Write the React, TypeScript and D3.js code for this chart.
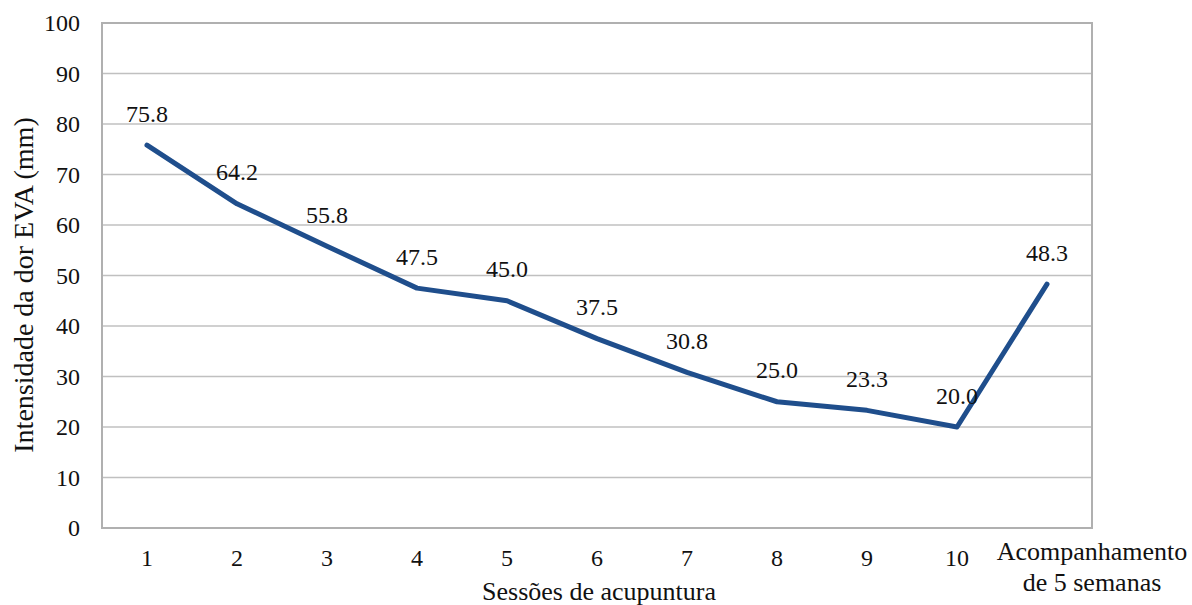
import React from "react";
import * as d3 from "d3";

const categories = ["1", "2", "3", "4", "5", "6", "7", "8", "9", "10", "Acompanhamento|de 5 semanas"];
const values = [75.8, 64.2, 55.8, 47.5, 45.0, 37.5, 30.8, 25.0, 23.3, 20.0, 48.3];
const yTicks = [0, 10, 20, 30, 40, 50, 60, 70, 80, 90, 100];

const font = "'Liberation Serif', 'Times New Roman', serif";
const ts: React.CSSProperties = { fontFamily: font };

export default function App() {
  const W = 1192, H = 605;
  const m = { left: 102, top: 23, right: 1092, bottom: 528 };
  const x = d3.scaleBand<string>().domain(categories).range([m.left, m.right]);
  const y = d3.scaleLinear().domain([0, 100]).range([m.bottom, m.top]);
  const cx = (c: string) => (x(c) as number) + x.bandwidth() / 2;
  const line = d3.line<number>().x((_, i) => cx(categories[i])).y((v) => y(v));
  return (
    <svg width={W} height={H} style={{ position: "absolute", left: 0, top: 0, background: "#fff", fontFamily: font }}>
      {yTicks.map((t) => (
        <g key={t}>
          <line x1={m.left} x2={m.right} y1={y(t)} y2={y(t)} stroke="#c0c0c0" strokeWidth={1.5} />
          <text style={ts} x={80} y={y(t)} dy="0.34em" textAnchor="end" fontSize={24} fill="#111">{t}</text>
        </g>
      ))}
      <rect x={m.left} y={m.top} width={m.right - m.left} height={m.bottom - m.top} fill="none" stroke="#b0b0b0" strokeWidth={2} />
      {categories.map((c, i) => {
        const parts = c.split("|");
        const isLast = parts.length > 1;
        const tx = isLast ? cx(c) + x.bandwidth() / 2 : cx(c);
        return (
          <text style={ts} key={i} x={tx} y={isLast ? 560 : 566} textAnchor="middle" fontSize={isLast ? 26 : 24} fill="#111">
            {parts.map((p, j) => (
              <tspan key={j} x={tx} dy={j === 0 ? 0 : 31}>{p}</tspan>
            ))}
          </text>
        );
      })}
      <path d={line(values) || ""} fill="none" stroke="#1f4e8c" strokeWidth={5} strokeLinejoin="round" strokeLinecap="round" />
      {values.map((v, i) => (
        <text style={ts} key={i} x={cx(categories[i])} y={y(v) - 23.5} textAnchor="middle" fontSize={24} fill="#111">{v.toFixed(1)}</text>
      ))}
      <text style={ts} x={599} y={600} textAnchor="middle" fontSize={26} fill="#111">Sessões de acupuntura</text>
      <text style={ts} transform={`translate(33, 285) rotate(-90)`} textAnchor="middle" fontSize={28} fill="#111">Intensidade da dor EVA (mm)</text>
    </svg>
  );
}
